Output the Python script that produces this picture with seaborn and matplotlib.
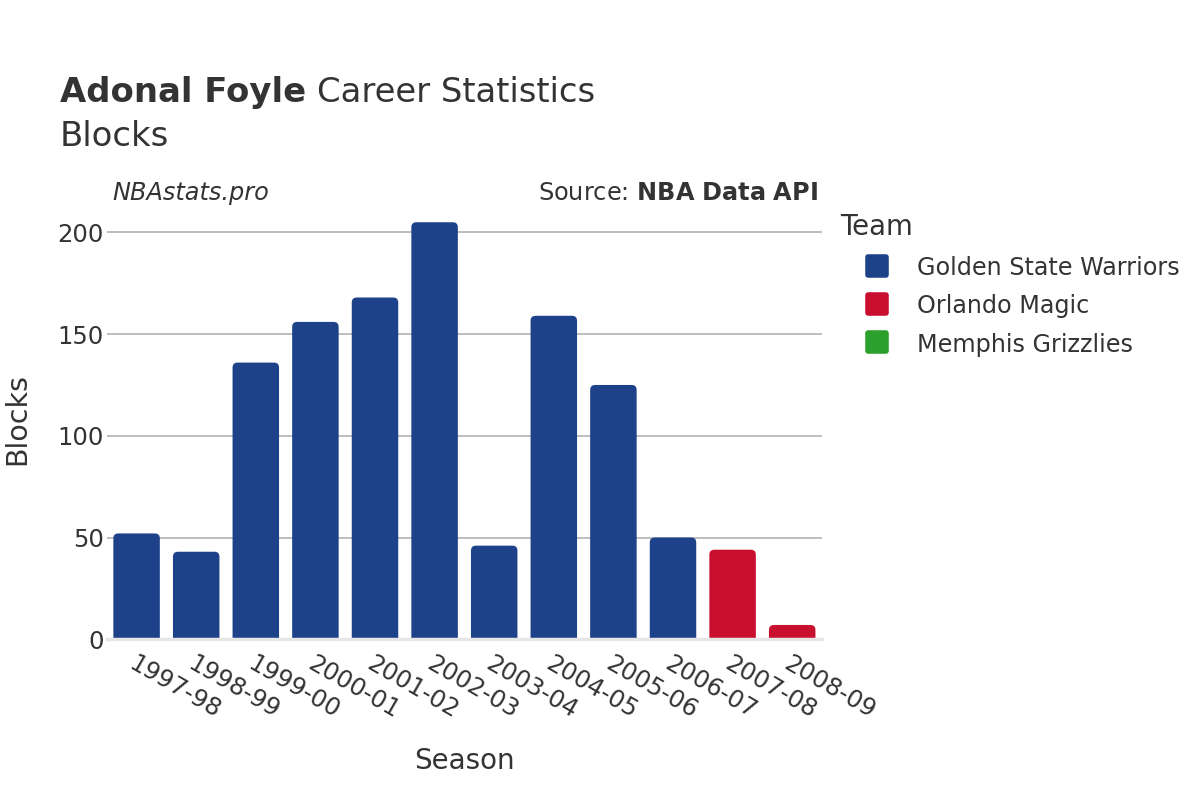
import pandas as pd
import matplotlib.pyplot as plt
import seaborn as sns
from matplotlib.patches import FancyBboxPatch
from matplotlib.lines import Line2D
from matplotlib.markers import MarkerStyle

# Season-by-season blocks
seasons = ['1997-98', '1998-99', '1999-00', '2000-01', '2001-02', '2002-03',
           '2003-04', '2004-05', '2005-06', '2006-07', '2007-08', '2008-09']
blocks = [52, 43, 136, 156, 168, 205, 46, 159, 125, 50, 44, 7]
teams = ['Golden State Warriors'] * 10 + ['Orlando Magic'] * 2
team_order = ['Golden State Warriors', 'Orlando Magic', 'Memphis Grizzlies']
team_colors = ['#1d428a', '#c8102e', '#2ca02c']

df = pd.DataFrame({'season': seasons, 'blocks': blocks, 'team': teams})

sns.set_style('white')
plt.rcParams['font.family'] = ['DejaVu Sans']
text_color = '#333333'

fig = plt.figure(figsize=(12, 8), dpi=100)
ax = fig.add_axes([0.089, 0.201, 0.596, 0.539])

sns.barplot(data=df, x='season', y='blocks', hue='team', hue_order=team_order,
            palette=team_colors, saturation=1, dodge=False, width=0.78,
            legend=False, ax=ax)

ax.set_xlim(-0.5, len(seasons) - 0.5)
ax.set_ylim(0, 212)

# swap the plain bars for rounded ones
fig.canvas.draw()
bbox = ax.get_window_extent()
px_x = bbox.width / len(seasons)
px_y = bbox.height / 212
aspect = px_x / px_y
r = 5 / px_x
for bar in list(ax.patches):
    h = bar.get_height()
    if h <= 0:
        bar.remove()
        continue
    x, w = bar.get_x(), bar.get_width()
    rb = FancyBboxPatch((x, -r * aspect), w, h + r * aspect,
                        boxstyle=f'round,pad=0,rounding_size={r}',
                        mutation_aspect=aspect, facecolor=bar.get_facecolor(),
                        edgecolor='none', zorder=2)
    ax.add_patch(rb)
    bar.remove()

ax.set_yticks([0, 50, 100, 150, 200])
ax.yaxis.grid(True, color='#b3b3b3', linewidth=1.2)
ax.set_axisbelow(True)
for side in ['top', 'right', 'left']:
    ax.spines[side].set_visible(False)
ax.spines['bottom'].set_color('#e6e6e6')
ax.spines['bottom'].set_linewidth(2.5)
ax.tick_params(axis='y', length=0, labelsize=17.5, colors=text_color, pad=2)
ax.tick_params(axis='x', length=0, labelsize=17.5, colors=text_color, pad=9)
plt.setp(ax.get_xticklabels(), rotation=-30, ha='left', rotation_mode='anchor')

ax.set_xlabel('Season', fontsize=20, color=text_color, labelpad=17)
ax.set_ylabel('Blocks', fontsize=20.5, color=text_color)
ax.yaxis.set_label_coords(-0.106, 0.51)

# title: bold name followed by regular text
t1 = fig.text(0.05, 0.872, 'Adonal Foyle', fontsize=24.4, fontweight='bold',
              color=text_color, va='baseline')
fig.canvas.draw()
ext = t1.get_window_extent()
fig.text(ext.x1 / 1200 + 0.009, 0.872, 'Career Statistics', fontsize=24.4,
         color=text_color, va='baseline')
fig.text(0.05, 0.818, 'Blocks', fontsize=24.4, color=text_color, va='baseline')

fig.text(0.094, 0.75, 'NBAstats.pro', fontsize=17.3, style='italic',
         color=text_color, va='baseline')
fig.text(0.682, 0.75, r'Source: $\bf{NBA\ Data\ API}$', fontsize=17.3,
         color=text_color, va='baseline', ha='right')

# legend
fig.text(0.7, 0.716, 'Team', fontsize=19.8, color=text_color, va='center')
marker = MarkerStyle('s', joinstyle='round')
handles = [Line2D([], [], linestyle='none', marker=marker, markersize=13,
                  markerfacecolor=c, markeredgecolor=c, markeredgewidth=4)
           for c in team_colors]
leg = fig.legend(handles, team_order, loc='upper left',
                 bbox_to_anchor=(0.7206, 0.680), frameon=False, fontsize=17.2,
                 handlelength=1.0, handleheight=1.0, handletextpad=1.17,
                 labelspacing=0.6, borderaxespad=0, borderpad=0)
for t in leg.get_texts():
    t.set_color(text_color)

fig.savefig('out.png', dpi=100)
